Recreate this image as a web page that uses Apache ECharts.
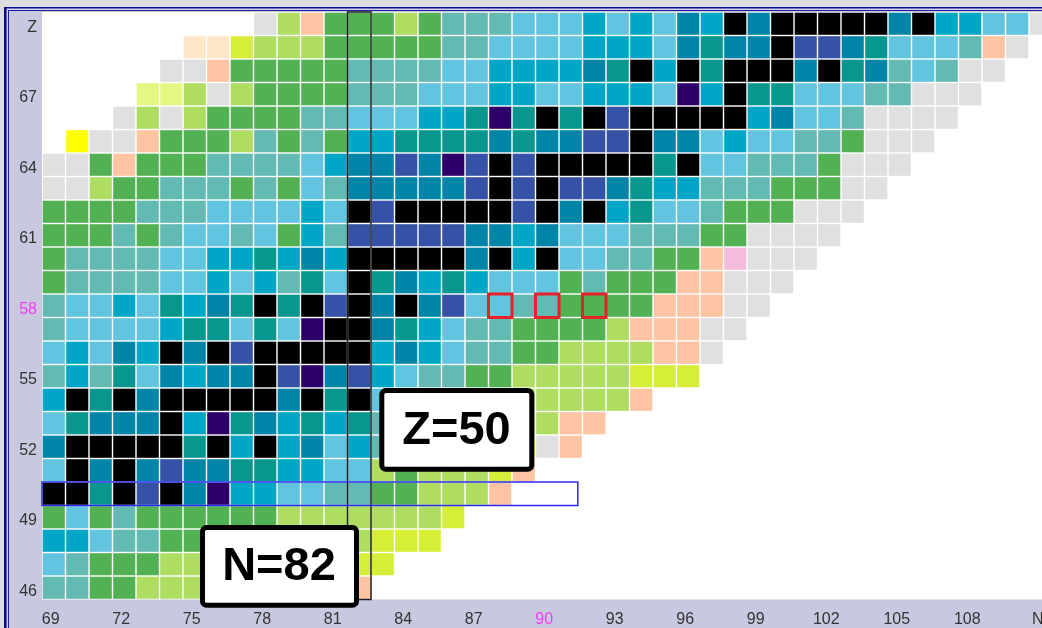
<!DOCTYPE html>
<html>
<head>
<meta charset="utf-8">
<title>Chart of nuclides, Z 46-70 / N 69-111</title>
<script src="https://cdn.jsdelivr.net/npm/echarts@6/dist/echarts.min.js"></script>
<style>
  html, body { margin: 0; padding: 0; background: #dedede; }
  #chart { width: 1042px; height: 628px; }
</style>
</head>
<body>
<div id="chart"></div>
<script>
// Neutron numbers (columns) and proton numbers (rows) shown on the chart.
const neutronNumbers = [69, 70, 71, 72, 73, 74, 75, 76, 77, 78, 79, 80, 81, 82, 83, 84, 85, 86,
  87, 88, 89, 90, 91, 92, 93, 94, 95, 96, 97, 98, 99, 100, 101, 102, 103, 104, 105, 106, 107,
  108, 109, 110, 111];
const protonNumbers = [46, 47, 48, 49, 50, 51, 52, 53, 54, 55, 56, 57, 58, 59, 60, 61, 62, 63,
  64, 65, 66, 67, 68, 69, 70];

// Half-life class of each nuclide, one string per Z (from Z=70 down to Z=46).
// Each character is one N, starting at N=69; spaces split N=69-81 | 82-95 | 96-111.
// '.' = no nuclide.
const nuclideRows = [
  '.........SgPG GGgGTTTLLLCLCL DCKDKKKKKDKCCLLS', // Z=70
  '......QQygggG GGGGTTLLLLCCCL DEDDKBBDELLLTPS.', // Z=69
  '.....SSPGGGGG TTTTLLCCCCDEKC KEKKKDKEDTLTSS..', // Z=68
  '....ppgSgGGGG TTTLLLCCLLCCCL ICKEELLLTTSSS...', // Z=67
  '...SgSgGGGGTT LLLCCEIEKEKBKK KKKCDLLTSSSS....', // Z=66
  '.YSSPGGGgTGTG CCEEEEDEDDBBKD DLCLLTTGSSS.....', // Z=65
  'SSGPGGGTTTTLC DDBDIBKBKKKKKE KLLTTTGSSS......', // Z=64
  'SSgGGTTTGTGLT DDDDDBKBKBBDEC CTTTGGGSS.......', // Z=63
  'GGGGTTTLLLLCL KBKKKKKBKDKCEL LTGGGSSS........', // Z=62
  'GGGTGTLLTLGCT BBBBBDDCDLLLTT TGGSSSS.........', // Z=61
  'GTTTTLLCCECDC KKKKKDKCKLLTTG GPRSSS..........', // Z=60
  'GTTTTLLCLCTEL KEDCECLLLGTGGG PPSSS...........', // Z=59
  'TLLCLECDEKEKB KDKDBLLTTGGGGP PPSS............', // Z=58
  'TLLLLCEELELIK KDECLTTGGGGgPP PSS.............', // Z=57
  'LCLDCKDKBKKKK KCDCLTTGGggggP PS..............', // Z=56
  'TCTELDCDDKBID BCLTTGGgggggyy y...............', // Z=55
  'CKEKDKKKKKDKE KLTTGGggggggP. ................', // Z=54
  'LEDDDKCIEDCEC ETTGGggggPP... ................', // Z=53
  'DKKKKKEKCKCDL CTGGgggySP.... ................', // Z=52
  'LKDKDBDDEECCL LgGgggyP...... ................', // Z=51
  'KKEKBKDICCLLT TGGgggP....... ................', // Z=50
  'GLGTGGGGGGggg ggggy......... ................', // Z=49
  'CCLTTGGGGgggg gyyy.......... ................', // Z=48
  'LTGGGggggggyy yy............ ................', // Z=47
  'TTGGggggggyyy P............. ................'  // Z=46
];

// Half-life classes and their fill colours.
const halfLifeClasses = ['K', 'I', 'B', 'D', 'C', 'L', 'T', 'E', 'G', 'g', 'y', 'p', 'Y', 'P', 'Q', 'S', 'R'];
const classColors = [
  '#000000', // K  stable
  '#2c0068', // I
  '#3652a6', // B
  '#0085a8', // D
  '#00a6c6', // C
  '#62c4de', // L
  '#62bab2', // T
  '#08978f', // E
  '#52b152', // G
  '#aedd62', // g
  '#d6ee38', // y
  '#e6f682', // p
  '#ffff00', // Y
  '#ffc4a2', // P
  '#ffe6c8', // Q
  '#e0e0e0', // S
  '#f4bcdc'  // R
];

// Axis labels: every third value, the last one replaced by the axis name.
const labelStep = 3;
const xAxisName = 'N';
const yAxisName = 'Z';
const highlightedN = [90];
const highlightedZ = [58];

// Outlined nuclides and highlighted lines.
const magicColumnN = 82;
const magicRow = { z: 50, fromEdgeN: 68.5, toEdgeN: 91.3 };
const markedCells = [[88, 58], [90, 58], [92, 58]];

// Build [nIndex, zIndex, classIndex] items.
const cells = [];
nuclideRows.forEach(function (rowText, r) {
  const codes = rowText.replace(/ /g, '');
  const z = protonNumbers[protonNumbers.length - 1 - r];
  const zi = protonNumbers.indexOf(z);
  for (let i = 0; i < codes.length && i < neutronNumbers.length; i++) {
    const ci = halfLifeClasses.indexOf(codes[i]);
    if (ci >= 0) cells.push([i, zi, ci]);
  }
});

const chart = echarts.init(document.getElementById('chart'), null, { renderer: 'canvas' });

const labelFont = { fontFamily: 'Liberation Sans, Arial, sans-serif', fontSize: 16 };

function cellRect(api, ni, zi) {
  const c = api.coord([ni, zi]);
  const s = api.size([1, 1]);
  return { x: c[0] - s[0] / 2, y: c[1] - s[1] / 2, width: s[0], height: s[1] };
}

const option = {
  animation: false,
  backgroundColor: 'transparent',
  grid: {
    left: 42, top: 12, width: 43 * 23.5, height: 25 * 23.5,
    containLabel: false, outerBoundsMode: 'none'
  },
  xAxis: {
    type: 'category',
    data: neutronNumbers.map(String),
    axisLine: { show: false },
    axisTick: { show: false },
    splitLine: { show: false },
    axisLabel: Object.assign({
      interval: function (index) { return index % labelStep === 0; },
      margin: 6,
      padding: [6, 6, 0, 0],
      hideOverlap: false,
      formatter: function (v, i) { return i === neutronNumbers.length - 1 ? xAxisName : v; },
      color: function (v) { return highlightedN.indexOf(Number(v)) >= 0 ? '#f23cf2' : '#333'; }
    }, labelFont)
  },
  yAxis: {
    type: 'category',
    data: protonNumbers.map(String),
    axisLine: { show: false },
    axisTick: { show: false },
    splitLine: { show: false },
    axisLabel: Object.assign({
      interval: function (index) { return index % labelStep === 0; },
      margin: 5,
      verticalAlign: 'top',
      lineHeight: 7,
      formatter: function (v, i) { return i === protonNumbers.length - 1 ? yAxisName : v; },
      color: function (v) { return highlightedZ.indexOf(Number(v)) >= 0 ? '#f23cf2' : '#333'; }
    }, labelFont)
  },
  graphic: [
    { type: 'rect', z: -15, silent: true, shape: { x: 4, y: 7, width: 1100, height: 700 }, style: { fill: '#0c0c92' } },
    { type: 'rect', z: -14, silent: true, shape: { x: 6.6, y: 8.6, width: 1100, height: 700 }, style: { fill: '#d6d6ea' } },
    { type: 'rect', z: -13, silent: true, shape: { x: 8, y: 10, width: 1100, height: 700 }, style: { fill: '#1c1ca6' } },
    { type: 'rect', z: -12, silent: true, shape: { x: 9, y: 11, width: 1100, height: 700 }, style: { fill: '#c8c8e0' } },
    { type: 'rect', z: -11, silent: true, shape: { x: 42, y: 12, width: 1100, height: 587.5 }, style: { fill: '#ffffff' } },
    {
      type: 'group', z: 20,
      children: [
        { type: 'rect', z: 20, shape: { x: 381.8, y: 390.5, width: 150, height: 78.7, r: 4 },
          style: { fill: '#ffffff', stroke: '#000000', lineWidth: 5 } },
        { type: 'text', z: 21, style: { x: 456.5, y: 431, text: 'Z=50', fill: '#000000',
          font: 'bold 47px "Liberation Sans", Arial, sans-serif', textAlign: 'center', textVerticalAlign: 'middle' } },
        { type: 'rect', z: 20, shape: { x: 202.5, y: 527.5, width: 154, height: 77.7, r: 4 },
          style: { fill: '#ffffff', stroke: '#000000', lineWidth: 5 } },
        { type: 'text', z: 21, style: { x: 279, y: 567.5, text: 'N=82', fill: '#000000',
          font: 'bold 47px "Liberation Sans", Arial, sans-serif', textAlign: 'center', textVerticalAlign: 'middle' } }
      ]
    }
  ],
  series: [
    {
      name: 'nuclides',
      type: 'custom',
      z: 2,
      encode: { x: 0, y: 1 },
      data: cells,
      renderItem: function (params, api) {
        const r = cellRect(api, api.value(0), api.value(1));
        const gap = 1.4;
        return {
          type: 'rect',
          shape: { x: r.x + gap / 2, y: r.y + gap / 2, width: r.width - gap, height: r.height - gap },
          style: { fill: classColors[api.value(2)] }
        };
      }
    },
    {
      name: 'N=82 column',
      type: 'custom',
      z: 4,
      clip: false,
      encode: { x: 0, y: 1 },
      data: [[neutronNumbers.indexOf(magicColumnN), 0]],
      renderItem: function (params, api) {
        const bottom = cellRect(api, api.value(0), 0);
        const top = cellRect(api, api.value(0), protonNumbers.length - 1);
        return {
          type: 'rect',
          shape: { x: top.x, y: top.y, width: top.width, height: bottom.y + bottom.height - top.y },
          style: { fill: 'none', stroke: '#1e1e1e', lineWidth: 1.5 }
        };
      }
    },
    {
      name: 'Z=50 row',
      type: 'custom',
      z: 5,
      clip: false,
      encode: { x: 0, y: 1 },
      data: [[0, protonNumbers.indexOf(magicRow.z)]],
      renderItem: function (params, api) {
        const zi = api.value(1);
        const first = cellRect(api, 0, zi);
        const w = first.width;
        const edgeX = function (nEdge) { return first.x + (nEdge - (neutronNumbers[0] - 0.5)) * w; };
        const x0 = edgeX(magicRow.fromEdgeN);
        const x1 = edgeX(magicRow.toEdgeN);
        return {
          type: 'rect',
          shape: { x: x0, y: first.y, width: x1 - x0, height: first.height },
          style: { fill: 'none', stroke: '#2a2af0', lineWidth: 1.5 }
        };
      }
    },
    {
      name: 'marked nuclides',
      type: 'custom',
      z: 6,
      clip: false,
      encode: { x: 0, y: 1 },
      data: markedCells.map(function (p) { return [neutronNumbers.indexOf(p[0]), protonNumbers.indexOf(p[1])]; }),
      renderItem: function (params, api) {
        const r = cellRect(api, api.value(0), api.value(1));
        return {
          type: 'rect',
          shape: { x: r.x, y: r.y, width: r.width, height: r.height },
          style: { fill: 'none', stroke: '#e8202c', lineWidth: 3 }
        };
      }
    }
  ]
};

chart.setOption(option);
</script>
</body>
</html>
